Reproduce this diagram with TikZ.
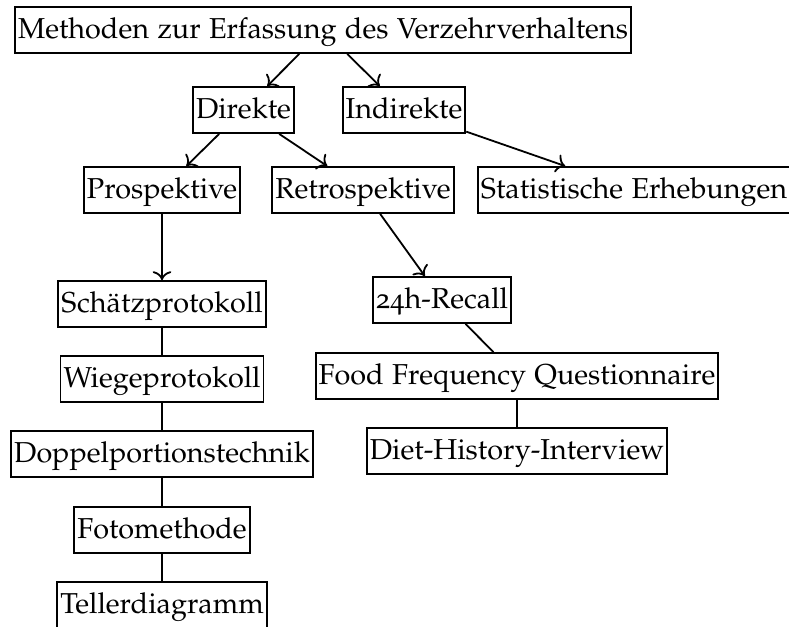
\documentclass[tikz,border=0pt]{standalone}
\usepackage[T1]{fontenc}
\usepackage[osf]{mathpazo}
\usetikzlibrary{arrows.meta}
\begin{document}
\begin{tikzpicture}[x=1pt,y=-1pt,
  box/.style={draw, line width=1.8pt, rectangle, inner xsep=3pt, inner ysep=3pt,
    text height=28pt, text depth=12pt,
    font=\fontsize{28.8}{34}\selectfont},
  link/.style={line width=1.8pt},
  arr/.style={line width=1.8pt, -{To[scale=1.6]}}]
\useasboundingbox (0,0) rectangle (789,626);

\node[box] (root)  at (323,30)   {Methoden zur Erfassung des Verzehrverhaltens};
\node[box] (dir)   at (243.5,110) {Direkte};
\node[box] (ind)   at (404,110)  {Indirekte};
\node[box] (pro)   at (162,190)  {Prospektive};
\node[box] (retro) at (363,190)  {Retrospektive};
\node[box, anchor=west] (stat) at (477,190) {Statistische Erhebungen};
\node[box] (sch)   at (162,304)  {Sch\"atzprotokoll};
\node[box] (wie)   at (162,379)  {Wiegeprotokoll};
\node[box] (dop)   at (162,454)  {Doppelportionstechnik};
\node[box] (foto)  at (162,530)  {Fotomethode};
\node[box] (tel)   at (162,605)  {Tellerdiagramm};
\node[box] (rec)   at (442,300)  {24h-Recall};
\node[box] (ffq)   at (517,376)  {Food Frequency Questionnaire};
\node[box] (diet)  at (517,451)  {Diet-History-Interview};

\draw[arr] (root) -- (dir);
\draw[arr] (root) -- (ind);
\draw[arr] (dir) -- (pro);
\draw[arr] (dir) -- (retro);
\draw[arr] (ind) -- (stat);
\draw[arr] (pro) -- (sch);
\draw[arr] (retro) -- (rec);

\draw[link] (sch) -- (wie);
\draw[link] (wie) -- (dop);
\draw[link] (dop) -- (foto);
\draw[link] (foto) -- (tel);
\draw[link] (rec) -- (ffq);
\draw[link] (ffq) -- (diet);
\end{tikzpicture}
\end{document}
